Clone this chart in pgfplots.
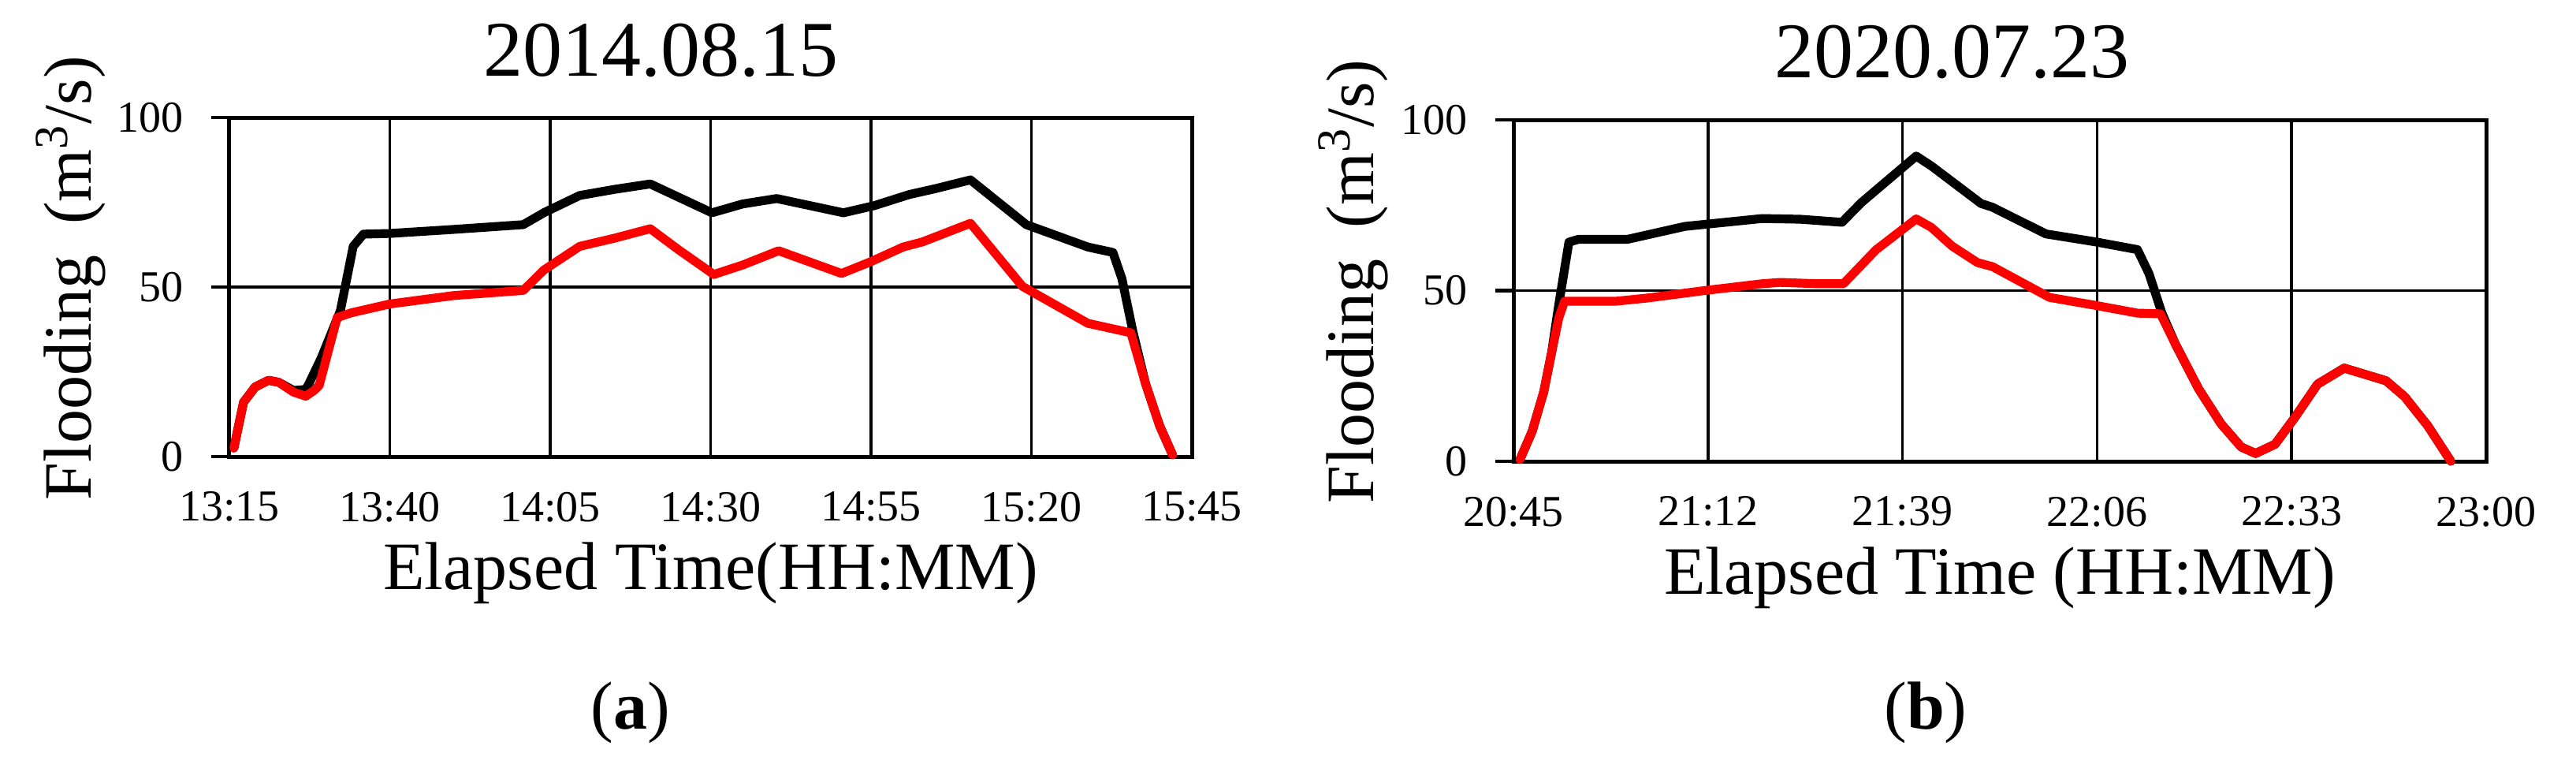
\documentclass[border=0pt]{standalone}
\usepackage{fontspec}
\setmainfont{Liberation Serif}
\usepackage{pgfplots}
\pgfplotsset{compat=1.18}
\begin{document}
\begin{tikzpicture}
\useasboundingbox (0,0) rectangle (817pt,244.5pt);
\pgfplotsset{
  floodstyle/.style={
    scale only axis,
    anchor=south west,
    ymin=0, ymax=100,
    ytick={0,50,100}, yticklabels={0,50,100},
    grid=major,
    grid style={black, line width=0.9pt},
    axis line style={black, line width=1.25pt},
    tick align=outside,
    ytick pos=left,
    xtick pos=bottom,
    major tick length=5.75pt,
    xtick style={draw=none},
    ytick style={black, line width=1.1pt},
    tick label style={font=\fontsize{14}{14}\selectfont},
    xticklabel style={anchor=north, inner sep=0pt, yshift=-5.25pt},
    yticklabel style={anchor=east, inner sep=0pt, xshift=-8.75pt},
    label style={font=\fontsize{21.5}{21.5}\selectfont},
    xlabel style={at={(axis description cs:0.5,0)}, anchor=base, inner sep=0pt},
    ylabel style={at={(axis description cs:-0.144,0.526)}, anchor=base, inner sep=0pt, rotate=0},
    title style={font=\fontsize{25}{25}\selectfont, anchor=base, inner sep=0pt},
    clip=false,
    every axis plot/.append style={line width=2.8pt, line join=round, line cap=round},
  }
}
\begin{axis}[floodstyle,
  at={(72.75pt,99.75pt)}, width=305.25pt, height=107.5pt,
  xmin=0, xmax=150,
  xtick={0,25,50,75,100,125,150},
  xticklabels={13:15,13:40,14:05,14:30,14:55,15:20,15:45},
  xlabel={Elapsed Time(HH:MM)},
  xlabel style={yshift=-42pt},
  ylabel={Flooding\hspace{0.45em}(m\textsuperscript{3}/s)},
  title={2014.08.15},
  title style={at={(axis description cs:0.448,1)}, yshift=7.25pt},
]
\addplot[black] coordinates {
(0.7,2.5) (2.2,16) (4,20.5) (6.1,22.5) (7.7,21.9) (10,19.5) (11.9,19.8)
(12.4,21.5) (14.3,29) (17.3,43) (19.3,62) (20.9,65.6) (25,65.8) (35,67)
(45.8,68.4) (49.1,72) (54.6,77) (60,78.8) (65.6,80.4) (75.2,71.9) (80,74.5)
(85.3,76.1) (95.7,71.9) (100.5,74) (106,77.3) (110,79) (115.5,81.6)
(124.2,68.4) (133.8,61.8) (137.7,60.2) (139.1,52.5) (140.8,37)
(142.8,21.4) (145,9) (147,0.5)
};
\addplot[red] coordinates {
(0.7,2.5) (2.2,16) (4,20.5) (6.1,22.5) (7.7,21.9) (10,19) (11.9,17.8)
(13.2,19.5) (14,21) (16.8,41) (19,42.4) (25,45) (35,47.5) (45.8,49)
(49,55) (54.6,62) (60,64.4) (65.6,67.2) (70,61) (75.5,53.7) (80,56.5)
(85.6,60.7) (95.4,54) (100,57.5) (105,61.8) (108,63.3) (115.5,68.8)
(123.6,50.2) (133.8,39.3) (140.5,36.5) (142.8,21.4) (145,9) (147,0.5)
};
\end{axis}
\begin{axis}[floodstyle,
  at={(480pt,98.25pt)}, width=308.5pt, height=108.25pt,
  xmin=0, xmax=135,
  xtick={0,27,54,81,108,135},
  xticklabels={20:45,21:12,21:39,22:06,22:33,23:00},
  xlabel={Elapsed Time (HH:MM)},
  xlabel style={yshift=-42pt},
  ylabel={Flooding\hspace{0.45em}(m\textsuperscript{3}/s)},
  title={2020.07.23},
  title style={at={(axis description cs:0.451,1)}, yshift=7.5pt},
]
\addplot[black] coordinates {
(0.9,0.5) (2.6,8.8) (4.2,20.3) (5.3,31.9) (6.3,46) (7.7,64.2) (9,65)
(15.8,65) (23.8,68.8) (34.5,71.1) (39.8,70.9) (45.6,70) (48.3,75.8)
(55.9,89.4) (58,86.5) (64.9,75.5) (66.5,74.4) (73.9,66.6) (80.7,64.3)
(86.6,62) (88.2,55) (90,43.4) (91.9,34.2) (95.1,21.2) (98.2,11)
(101,4.2) (103,2.3) (105.7,5) (108.4,12.7) (111.6,22.6) (115.3,27.3)
(121.1,23.6) (123.7,18.9) (126.9,10.4) (130.1,0)
};
\addplot[red] coordinates {
(0.9,0.5) (2.6,8.8) (4.2,20.3) (5.3,31.9) (6.3,42) (7.1,46.9) (14.3,46.9)
(18.5,47.8) (26.5,50) (34.5,52) (37,52.4) (42.3,52) (45.8,52) (50.3,61.9)
(55.9,71) (58,68.5) (60.9,63) (64.4,58.2) (66.5,57) (74.4,48) (80.7,45.7)
(86.6,43.4) (89.8,43.2) (91.9,34.2) (95.1,21.2) (98.2,11) (101,4.2)
(103,2.3) (105.7,5) (108.4,12.7) (111.6,22.6) (115.3,27.3) (121.1,23.6)
(123.7,18.9) (126.9,10.4) (130.1,0)
};
\end{axis}
\node[font=\fontsize{21.5}{21.5}\selectfont, anchor=base, inner sep=0pt] at (200pt,13.5pt) {(\textbf{a})};
\node[font=\fontsize{21.5}{21.5}\selectfont, anchor=base, inner sep=0pt] at (610.75pt,13.5pt) {(\textbf{b})};
\end{tikzpicture}
\end{document}
